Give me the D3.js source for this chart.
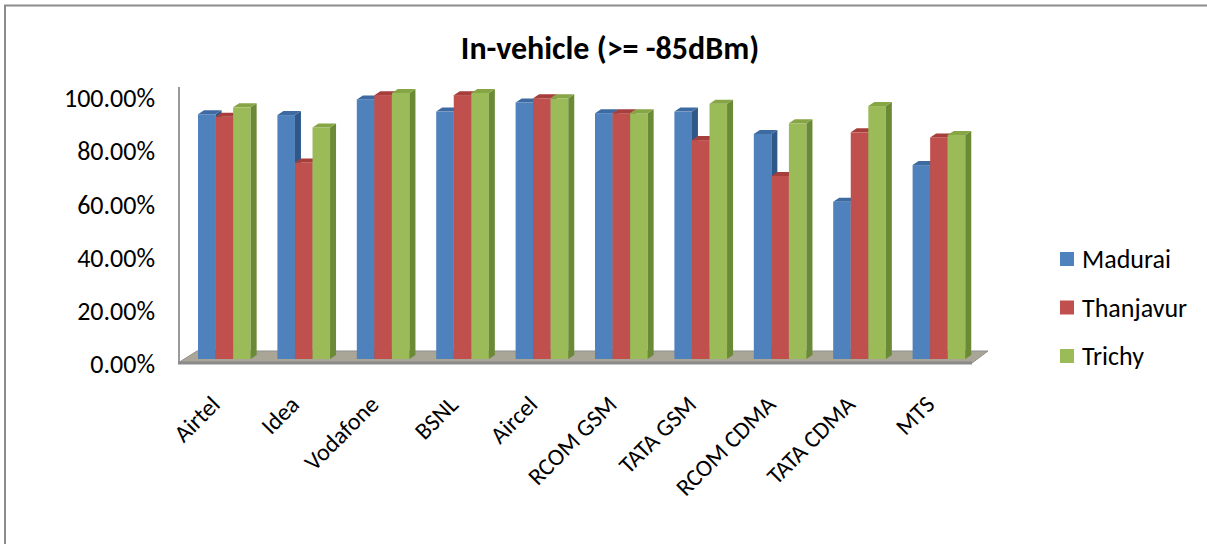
<!DOCTYPE html>
<html>
<head>
<meta charset="utf-8">
<script src="https://cdn.jsdelivr.net/npm/d3@7"></script>
<style>
  html, body { margin: 0; padding: 0; background: #fff; }
  svg { display: block; }
  text { font-family: Carlito, Calibri, Lato, "Open Sans", sans-serif; fill: #000; }
</style>
</head>
<body>
<svg id="chart" width="1207" height="544"></svg>
<script>
const categories = ["Airtel", "Idea", "Vodafone", "BSNL", "Aircel", "RCOM GSM", "TATA GSM", "RCOM CDMA", "TATA CDMA", "MTS"];
const seriesNames = ["Madurai", "Thanjavur", "Trichy"];
const madurai   = [0.920, 0.917, 0.976, 0.930, 0.964, 0.924, 0.930, 0.846, 0.591, 0.729];
const thanjavur = [0.911, 0.739, 0.992, 0.992, 0.980, 0.924, 0.823, 0.688, 0.852, 0.833];
const trichy    = [0.946, 0.870, 1.000, 1.000, 0.980, 0.924, 0.960, 0.886, 0.951, 0.842];
const yTicks = [0, 0.2, 0.4, 0.6, 0.8, 1.0];
const chartTitle = "In-vehicle (>= -85dBm)";

const seriesValues = [madurai, thanjavur, trichy];
const frontCol = ["#4f81bd", "#c0504d", "#9bbb59"];
const sideCol  = ["#2f5889", "#8c302d", "#6b8a35"];
const topCol   = ["#3e6aa2", "#a63e3b", "#86a545"];

const svg = d3.select("#chart");

// outer frame
svg.append("rect").attr("x", 5).attr("y", 5.5).attr("width", 1230).attr("height", 600)
  .attr("fill", "none").attr("stroke", "#8c8c8c").attr("stroke-width", 2);

const x = d3.scaleBand().domain(categories).range([178, 972]).padding(0);
const y = d3.scaleLinear().domain([0, 1]).range([359, 93]);
const dx = 6, dy = 4;
const bw = x.bandwidth() * 0.221;
const inner = x.bandwidth() * 0.252;

// left wall line
svg.append("line").attr("x1", 179).attr("x2", 179).attr("y1", 87).attr("y2", 363)
  .attr("stroke", "#9a9a9a").attr("stroke-width", 2);

// floor
const fl = 178, fr = 972, fy = 363;
svg.append("polygon")
  .attr("points", [[fl, fy], [fl + 19, fy - 12], [fr + 16, fy - 12], [fr, fy]].map(p => p.join(",")).join(" "))
  .attr("fill", "#a9a597").attr("stroke", "#8f8f8f").attr("stroke-width", 1);
svg.append("line").attr("x1", fl).attr("x2", fr).attr("y1", fy).attr("y2", fy)
  .attr("stroke", "#8a8a8a").attr("stroke-width", 3);

// bars
const g = svg.append("g");
categories.forEach((c, i) => {
  seriesValues.forEach((vals, j) => {
    const x0 = x(c) + inner + j * bw;
    const x1 = x0 + bw;
    const yt = y(vals[i]);
    const yb = y(0);
    g.append("rect").attr("x", x0).attr("y", yt).attr("width", bw).attr("height", yb - yt)
      .attr("fill", frontCol[j]);
    g.append("polygon")
      .attr("points", [[x1, yt], [x1 + dx, yt - dy], [x1 + dx, yb - dy], [x1, yb]].map(p => p.join(",")).join(" "))
      .attr("fill", sideCol[j]);
    g.append("polygon")
      .attr("points", [[x0, yt], [x0 + dx, yt - dy], [x1 + dx, yt - dy], [x1, yt]].map(p => p.join(",")).join(" "))
      .attr("fill", topCol[j]);
  });
});

// y axis labels
const fmt = d3.format(".2%");
svg.append("g").selectAll("text").data(yTicks).join("text")
  .attr("x", 155).attr("y", d => y(d) + 5).attr("dy", "0.35em")
  .attr("text-anchor", "end").attr("font-size", 26).text(d => fmt(d));

// x labels
svg.append("g").selectAll("text").data(categories).join("text")
  .attr("transform", d => `translate(${x(d) + inner + 1.5 * bw - 3},${406}) rotate(-45)`)
  .attr("text-anchor", "end").attr("font-size", 24).text(d => d);

// title
svg.append("text").attr("x", 610).attr("y", 48).attr("dy", "0.35em")
  .attr("text-anchor", "middle").attr("font-size", 32).attr("font-weight", "bold").text(chartTitle);

// legend
const lg = svg.append("g");
seriesNames.forEach((s, j) => {
  const cy = 259 + j * 48.5;
  lg.append("rect").attr("x", 1060).attr("y", cy - 7).attr("width", 14).attr("height", 14).attr("fill", frontCol[j]);
  lg.append("text").attr("x", 1082).attr("y", cy).attr("dy", "0.35em").attr("font-size", 26).text(s);
});
</script>
</body>
</html>
